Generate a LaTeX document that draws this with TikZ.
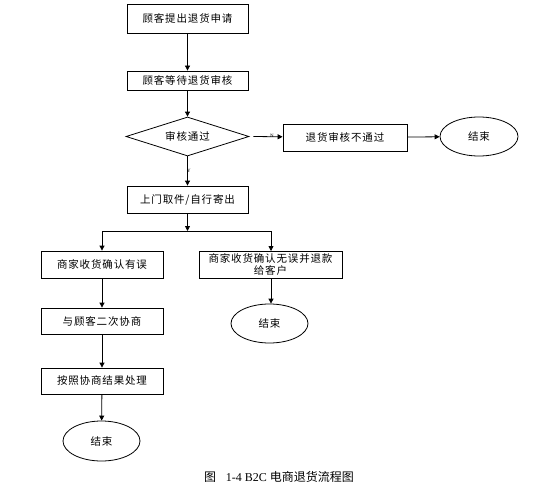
\documentclass[tikz,border=0pt]{standalone}
\usepackage{fontspec}
\setmainfont{Liberation Serif}
\newfontfamily\cjk{Noto Sans CJK SC}[LetterSpace=8]
\newfontfamily\cjkcap{Noto Sans CJK SC}
\usetikzlibrary{shapes.geometric,arrows.meta}
\definecolor{ln}{HTML}{000000}
\definecolor{bg}{HTML}{ffffff}
\tikzset{
  box/.style={draw=ln,line width=0.8pt,rectangle,inner sep=0pt,font=\cjk\fontsize{10.5}{12}\selectfont},
  endnode/.style={draw=ln,line width=0.8pt,ellipse,inner sep=0pt,minimum width=77pt,minimum height=39pt,font=\cjk\fontsize{10.5}{12}\selectfont},
  arr/.style={draw=ln,line width=0.8pt,-{Triangle[length=5pt,width=5pt]}},
  tag/.style={font=\fontsize{5}{6}\selectfont,inner sep=0pt}
}
\begin{document}
\begin{tikzpicture}[x=1pt,y=-1pt]
  \fill[bg] (0,0) rectangle (537,497);
  \useasboundingbox (0,0) rectangle (537,497);

  % Main column
  \node[box,minimum width=121pt,minimum height=29pt] (apply) at (187.5,18.5) {顾客提出退货申请};
  \node[box,minimum width=121pt,minimum height=19pt] (wait) at (187.5,80.5) {顾客等待退货审核};
  \node[draw=ln,line width=0.8pt,diamond,aspect=3.15,inner sep=0pt,minimum width=123pt,minimum height=39pt,
        font=\cjk\fontsize{10.5}{12}\selectfont] (check) at (187.5,136.5) {审核通过};
  \node[box,minimum width=121pt,minimum height=27pt] (pick) at (187.5,199.5) {上门取件/自行寄出};

  % Rejected branch
  \node[box,minimum width=124pt,minimum height=27pt] (reject) at (345,137.5) {退货审核不通过};
  \node[endnode,minimum width=78pt] (endA) at (479,136.5) {结束};

  % Two outcomes after receipt
  \node[box,minimum width=122pt,minimum height=27pt] (wrong) at (102,264.5) {商家收货确认有误};
  \node[box,minimum width=143pt,minimum height=27pt,align=center,anchor=north] (refund) at (270.5,251)
       {商家收货确认无误并退款\\给客户};
  \node[endnode] (endB) at (269.5,323.5) {结束};
  \node[box,minimum width=122pt,minimum height=26pt] (talk) at (102,321) {与顾客二次协商};
  \node[box,minimum width=122pt,minimum height=26pt] (deal) at (102,381) {按照协商结果处理};
  \node[endnode,minimum height=40pt] (endC) at (101.5,441) {结束};

  % Connectors
  \draw[arr] (apply) -- (wait);
  \draw[arr] (wait) -- (check);
  \draw[arr] ([xshift=4pt]check.east) -- (reject);
  \draw[arr] (reject) -- (endA);
  \draw[arr] (check) -- (pick);
  \coordinate (split) at (187.5,231);
  \draw[arr] (pick) -- (split);
  \draw[arr] (split) -| (wrong.north);
  \draw[arr] (split) -| ([xshift=0.5pt]refund.north);
  \draw[arr] (wrong) -- (talk);
  \draw[arr] (talk) -- (deal);
  \draw[arr] (deal) -- (endC);
  \draw[arr] ([xshift=0.5pt]refund.south) -- ([xshift=1.5pt]endB.north);

  % Branch tags
  \node[tag] (tagN) at (272,135.5) {N};
  \node[tag] (tagY) at (189,171) {Y};

  % Caption
  \node[font=\fontsize{12}{14}\selectfont,inner sep=0pt] (cap) at (279,477)
       {{\cjkcap 图}\hspace{0.8em}1-4 B2C {\cjkcap 电商退货流程图}};
\end{tikzpicture}
\end{document}
